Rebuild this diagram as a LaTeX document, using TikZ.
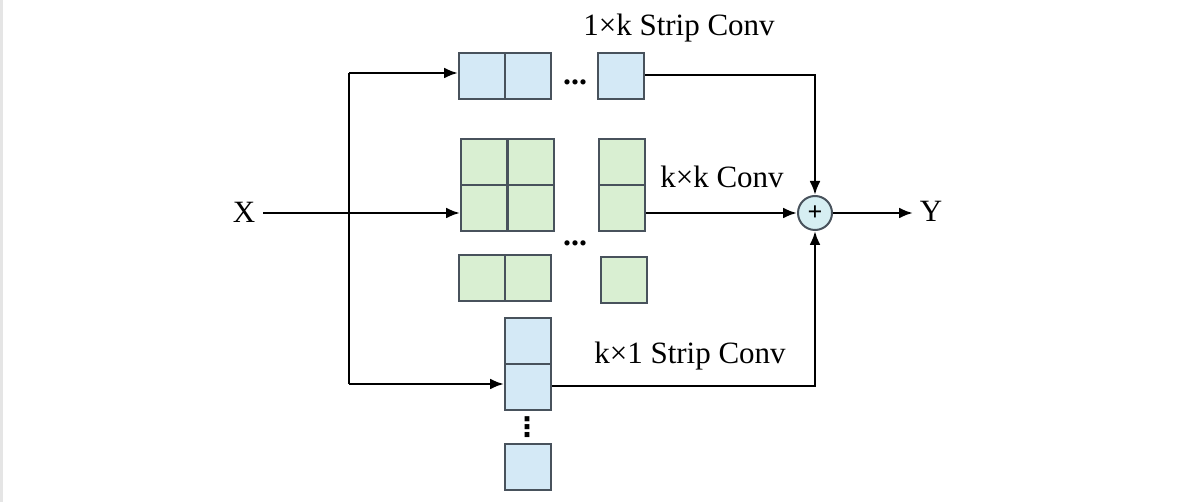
\documentclass[tikz,border=0pt]{standalone}
\usepackage{fontspec}
\setmainfont{Liberation Serif}
\newfontfamily\dejavu{DejaVu Sans}
\usetikzlibrary{arrows.meta}
\definecolor{blueF}{RGB}{212,233,246}
\definecolor{greenF}{RGB}{217,239,210}
\definecolor{edgeC}{RGB}{72,82,92}
\definecolor{circF}{RGB}{214,238,242}
\begin{document}
\begin{tikzpicture}[x=1pt,y=-1pt,
  cell/.style={draw=edgeC,line width=2pt,minimum width=46pt,minimum height=46pt,inner sep=0pt,anchor=north west},
  bcell/.style={cell,fill=blueF},
  gcell/.style={cell,fill=greenF},
  conn/.style={line width=2.6pt,black},
  arr/.style={conn,-{Latex[length=14pt,width=11pt]}},
  lbl/.style={font=\fontsize{31}{36}\selectfont,inner sep=0pt},
  dots/.style={font=\fontsize{32}{36}\selectfont\bfseries,inner sep=0pt}]
\useasboundingbox (0,0) rectangle (1179,502);
\fill[white] (0,0) rectangle (1179,502);
\draw[black!10,line width=3pt] (1.5,0) -- (1.5,502);
% top branch
\node[bcell] (t1) at (458,52) {};
\node[bcell] (t2) at (504,52) {};
\node[bcell] (t3) at (597,52) {};
\node[dots,anchor=base] (td) at (575,84.5) {...};
% middle branch
\node[gcell] (g11) at (460,138) {};
\node[gcell] (g12) at (507,138) {};
\node[gcell] (g21) at (460,184) {};
\node[gcell] (g22) at (507,184) {};
\node[gcell] (gr1) at (598,138) {};
\node[gcell] (gr2) at (598,184) {};
\node[gcell] (gb1) at (458,254) {};
\node[gcell] (gb2) at (504,254) {};
\node[gcell] (gb3) at (600,256) {};
\node[dots,anchor=base] (gd) at (575,245.5) {...};
% bottom branch
\node[bcell] (b1) at (504,317) {};
\node[bcell] (b2) at (504,363) {};
\node[bcell] (b3) at (504,443) {};
\node[inner sep=0pt,font=\dejavu\bfseries\fontsize{27}{30}\selectfont] (bd) at (527,427) {⋮};
% sum
\node[circle,draw=edgeC,fill=circF,line width=2pt,minimum size=34pt,inner sep=0pt,font=\fontsize{26}{28}\selectfont\bfseries] (sum) at (815,213) {+};
% labels
\node[lbl] (X) at (244,212) {X};
\node[lbl] (Y) at (931,211) {Y};
\node[lbl] (l1) at (679,28) {1×k Strip Conv};
\node[lbl] (l2) at (722,177) {k×k Conv};
\node[lbl] (l3) at (690,356) {k×1 Strip Conv};
% connectors
\coordinate (xs) at (263,213);
\coordinate (split) at (349,213);
\coordinate (ctop) at (349,73);
\coordinate (cbot) at (349,384);
\coordinate (yend) at (913,213);
\draw[conn] (ctop) -- (cbot);
\draw[arr] (xs) -- (g21.west |- split);
\draw[arr] (ctop) -- (t1.west |- ctop);
\draw[arr] (cbot) -- (b2.west |- cbot);
\draw[arr] (t3.east |- 0,75) -| (sum.north);
\draw[arr] (gr2.east |- split) -- (sum.west);
\draw[arr] (b2.east |- 0,386) -| (sum.south);
\draw[arr] (sum.east) -- (yend);
\end{tikzpicture}
\end{document}
